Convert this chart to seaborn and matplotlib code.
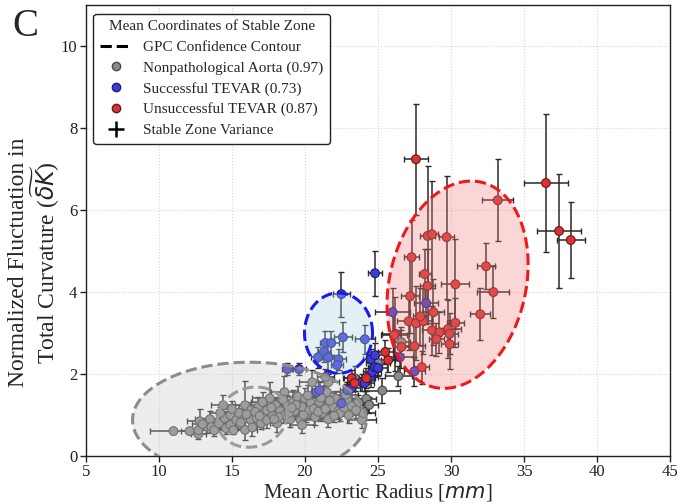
import numpy as np
import pandas as pd
import matplotlib
matplotlib.use('Agg')
import matplotlib.pyplot as plt
from matplotlib.lines import Line2D
import seaborn as sns

# ---- data : (radius, fluctuation, radius err, fluctuation err) ----
gray_x = [11.0, 12.1, 12.7, 12.7, 12.8, 13.3, 13.5, 13.6, 13.8, 14.1, 14.4, 14.5, 14.6, 14.9,
          14.9, 15.1, 15.3, 15.5, 15.9, 15.9, 15.9, 16.3, 16.3, 16.4, 16.7, 16.8, 17.0, 17.2,
          17.4, 17.4, 17.6, 17.8, 18.0, 18.1, 18.3, 18.6, 18.6, 18.8, 19.0, 19.2, 19.3, 19.5,
          19.7, 19.8, 19.8, 20.0, 20.1, 20.3, 20.4, 20.5, 20.7, 20.8, 21.0, 21.2, 21.3, 21.5,
          21.6, 21.8, 21.9, 22.1, 22.3, 22.4, 22.6, 22.9, 23.0, 23.4, 23.6, 23.9, 24.0, 24.2,
          25.0, 25.3, 26.4, 26.6, 21.6, 21.4,
          14.2, 15.0, 15.6, 16.0, 16.6, 17.1, 17.7, 18.2, 18.5, 18.9, 19.4, 19.9, 20.2, 20.6,
          20.9, 21.1, 21.7, 22.0, 22.7, 23.2, 23.5, 13.0, 16.9, 19.1, 17.9, 21.4, 22.8, 24.4]
gray_y = [0.61, 0.61, 0.54, 0.63, 0.85, 0.72, 0.90, 0.71, 0.63, 0.80, 1.24, 0.93, 0.68, 1.00,
          0.76, 0.63, 0.88, 1.05, 1.24, 0.93, 0.64, 0.88, 1.12, 0.70, 0.93, 1.20, 0.80, 1.05,
          1.12, 0.88, 1.41, 0.98, 1.24, 0.80, 1.10, 1.56, 1.00, 1.25, 0.90, 1.32, 1.10, 1.45,
          0.88, 1.20, 0.76, 1.41, 1.02, 1.12, 1.30, 1.80, 0.95, 1.20, 1.32, 1.05, 1.45, 1.56,
          0.90, 1.25, 1.20, 1.40, 1.10, 1.05, 1.30, 1.37, 1.00, 1.90, 1.29, 0.88, 1.05, 1.40,
          2.27, 1.60, 1.95, 2.78, 1.80, 1.93,
          1.05, 1.15, 0.82, 1.02, 1.08, 1.32, 1.18, 0.95, 1.38, 1.05, 1.25, 1.00, 1.48, 1.15,
          1.08, 1.42, 1.35, 0.98, 1.18, 1.22, 1.12, 0.78, 0.98, 1.18, 0.90, 1.15, 1.50, 1.25]
gray_xerr = [1.6, 0.6, 0.5, 0.8, 0.9, 0.7, 1.0, 0.6, 0.9, 0.7, 0.8, 0.6, 0.8, 0.7,
             0.9, 0.6, 0.8, 0.7, 0.9, 0.6, 0.8, 0.7, 0.8, 0.7, 0.9, 0.7, 0.6, 0.8,
             0.9, 0.7, 1.2, 0.6, 0.8, 0.9, 0.7, 0.9, 0.6, 0.8, 0.7, 0.9, 0.6, 0.8,
             0.9, 0.7, 0.8, 0.9, 0.7, 0.8, 0.7, 0.9, 0.8, 0.7, 0.9, 0.6, 0.8, 0.9,
             0.7, 0.8, 0.9, 0.7, 0.8, 0.9, 0.7, 0.8, 0.9, 0.8, 0.9, 1.0, 0.8, 0.7,
             0.8, 1.2, 0.9, 0.6, 0.7, 0.6,
             0.7, 0.8, 0.6, 0.9, 0.7, 0.8, 0.6, 0.9, 0.7, 0.8, 0.6, 0.9, 0.7, 0.8,
             0.6, 0.7, 0.8, 0.9, 0.7, 0.6, 0.8, 0.7, 0.8, 0.6, 0.9, 0.7, 0.8, 0.6]
gray_yerr = [0.05, 0.08, 0.12, 0.10, 0.30, 0.15, 0.20, 0.12, 0.15, 0.15, 0.25, 0.18, 0.15, 0.20,
             0.15, 0.10, 0.20, 0.20, 0.60, 0.20, 0.25, 0.15, 0.20, 0.20, 0.20, 0.25, 0.15, 0.20,
             0.25, 0.20, 0.40, 0.15, 0.20, 0.20, 0.20, 0.40, 0.20, 0.25, 0.20, 0.30, 0.20, 0.25,
             0.20, 0.20, 0.20, 0.25, 0.20, 0.20, 0.20, 0.30, 0.20, 0.25, 0.30, 0.20, 0.25, 0.30,
             0.20, 0.20, 0.25, 0.20, 0.20, 0.20, 0.20, 0.20, 0.20, 0.30, 0.20, 0.20, 0.25, 0.20,
             0.30, 0.30, 0.25, 0.30, 0.20, 0.20,
             0.15, 0.20, 0.15, 0.20, 0.15, 0.25, 0.20, 0.15, 0.25, 0.20, 0.20, 0.15, 0.25, 0.20,
             0.20, 0.25, 0.20, 0.15, 0.20, 0.20, 0.20, 0.15, 0.20, 0.20, 0.15, 0.20, 0.25, 0.20]

blue_x = [22.5, 24.8, 22.6, 24.1, 21.4, 21.8, 21.3, 20.9, 21.6, 22.3, 22.2, 24.5, 24.8,
          18.8, 19.6, 20.8, 21.0, 22.5, 22.9, 23.2, 23.9, 24.1, 24.5, 24.6, 24.8, 25.0,
          26.0, 28.3, 26.5, 27.5]
blue_y = [3.95, 4.46, 2.90, 2.85, 2.76, 2.76, 2.54, 2.41, 2.41, 2.36, 2.22, 2.36, 2.46,
          2.12, 2.12, 1.56, 1.61, 1.29, 1.61, 1.66, 1.80, 1.78, 1.93, 2.05, 2.17, 2.15,
          3.51, 3.73, 2.41, 2.07]
blue_xerr = [0.6, 0.5, 0.6, 0.7, 0.4, 0.5, 0.4, 0.5, 0.4, 0.5, 0.4, 0.5, 0.6,
             0.4, 0.5, 0.4, 0.5, 0.6, 0.5, 0.6, 0.5, 0.6, 0.5, 0.6, 0.5, 0.6,
             1.2, 0.8, 0.9, 0.7]
blue_yerr = [0.55, 0.55, 0.37, 0.35, 0.30, 0.30, 0.25, 0.25, 0.30, 0.25, 0.20, 0.25, 0.30,
             0.15, 0.15, 0.15, 0.20, 0.20, 0.20, 0.25, 0.20, 0.20, 0.25, 0.20, 0.25, 0.20,
             0.60, 0.50, 0.40, 0.35]

red_x = [27.6, 36.5, 33.2, 37.4, 38.2, 28.4, 28.7, 29.7, 27.3, 28.2, 28.4, 30.3, 32.4, 32.9,
         27.2, 32.0, 28.8, 30.3, 27.1, 27.6, 28.1, 28.7, 29.2, 29.8, 29.9, 29.0, 29.9, 26.2,
         26.6, 27.5, 28.0, 25.5, 25.7, 26.1, 23.2, 23.4, 24.2, 27.9]
red_y = [7.24, 6.66, 6.24, 5.49, 5.27, 5.37, 5.41, 5.34, 4.85, 4.44, 4.15, 4.19, 4.63, 4.00,
         3.90, 3.46, 3.51, 3.25, 3.29, 3.24, 3.29, 3.07, 3.02, 3.10, 2.98, 2.85, 2.73, 2.98,
         2.66, 2.68, 2.17, 2.54, 2.34, 2.95, 1.90, 1.78, 1.90, 3.41]
red_xerr = [0.8, 1.5, 1.05, 1.5, 0.97, 0.5, 0.4, 0.5, 0.5, 0.4, 0.5, 0.95, 0.6, 1.1,
            0.6, 0.7, 0.7, 0.6, 0.8, 0.5, 0.6, 0.7, 0.6, 0.9, 0.6, 0.5, 0.6, 0.9,
            0.6, 0.7, 0.5, 0.5, 0.5, 0.9, 0.5, 0.5, 0.6, 0.5]
red_yerr = [1.35, 1.68, 1.00, 1.40, 0.93, 1.70, 1.30, 1.50, 0.90, 0.60, 0.90, 1.10, 0.56, 0.64,
            0.90, 0.64, 0.80, 0.60, 0.70, 0.90, 0.80, 0.60, 0.50, 0.70, 0.50, 0.40, 0.60, 0.90,
            0.50, 0.60, 0.40, 0.30, 0.30, 0.60, 0.20, 0.20, 0.25, 0.70]

# confidence contours: centre x, centre y, x half-width, y shear, y half-height
ell_cx = [16.2, 16.4, 22.3, 30.45]
ell_cy = [0.88, 0.95, 3.00, 4.18]
ell_a = [8.0, 2.4, 2.33, 4.83]
ell_c = [0.0, 0.08, 0.0, 0.49]
ell_d = [1.41, 0.73, 0.98, 2.48]
ell_edge = ['#8c8c8c', '#9a9a9a', '#1a1aee', '#ee1a1a']
ell_fill = ['#c8c8c8', None, '#a8d4e8', '#f08080']

groups = ['Nonpathological Aorta (0.97)', 'Successful TEVAR (0.73)', 'Unsuccessful TEVAR (0.87)']
face = ['#8a8a8a', '#3c3cd8', '#d83232']
edge = ['#4a4a4a', '#1c1c70', '#701515']

frames = []
for g, xs, ys, xe, ye in zip(groups, [gray_x, blue_x, red_x], [gray_y, blue_y, red_y],
                             [gray_xerr, blue_xerr, red_xerr], [gray_yerr, blue_yerr, red_yerr]):
    frames.append(pd.DataFrame({'radius': xs, 'fluct': ys, 'xerr': xe, 'yerr': ye, 'group': g}))
df = pd.concat(frames, ignore_index=True)

sns.set_style('white')
plt.rcParams['font.family'] = ['Liberation Serif', 'DejaVu Serif']
plt.rcParams['mathtext.fontset'] = 'dejavusans'

fig = plt.figure(figsize=(6.81, 5.04), dpi=100)
ax = fig.add_axes([0.126, 0.095, 0.858, 0.895])

for g in groups:
    d = df[df['group'] == g]
    ax.errorbar(d['radius'], d['fluct'], xerr=d['xerr'], yerr=d['yerr'], fmt='none',
                ecolor='#2a2a2a', elinewidth=1.1, capsize=2, capthick=1.0, zorder=2)

sns.scatterplot(data=df, x='radius', y='fluct', hue='group', hue_order=groups,
                palette=face, s=40, legend=False, ax=ax, zorder=3)
# dark rims
pts = ax.collections[-1]
pts.set_edgecolors([edge[groups.index(g)] for g in df['group']])
pts.set_linewidths(0.8)

t = np.linspace(0, 2 * np.pi, 300)
for i in range(len(ell_cx)):
    ex = ell_cx[i] + ell_a[i] * np.cos(t)
    ey = ell_cy[i] + ell_c[i] * np.cos(t) + ell_d[i] * np.sin(t)
    if ell_fill[i] is not None:
        ax.fill(ex, ey, color=ell_fill[i], alpha=0.32, lw=0, zorder=4)
    ax.plot(ex, ey, '--', color=ell_edge[i], lw=2.2, zorder=5)

ax.set_xlim(5, 45)
ax.set_ylim(0, 11)
ax.set_xticks(range(5, 46, 5))
ax.set_yticks(range(0, 11, 2))
ax.grid(True, ls=':', color='#d5d5d5', lw=0.8)
ax.set_axisbelow(True)
for s in ax.spines.values():
    s.set_color('#222222')
    s.set_linewidth(1.0)
ax.tick_params(direction='out', length=4, width=1, labelsize=12, colors='#222222',
               left=True, bottom=True, pad=2)

ax.set_xlabel('Mean Aortic Radius [$mm$]', fontsize=15, labelpad=1)
ax.set_ylabel('Normalized Fluctuation in\nTotal Curvature ($\\widetilde{\\delta K}$)', fontsize=17,
              linespacing=1.0)
ax.yaxis.set_label_coords(-0.04, 0.43)

handles = [Line2D([], [], color='black', ls='--', lw=2.2),
           Line2D([], [], marker='o', ls='none', mfc=face[0], mec=edge[0], ms=6),
           Line2D([], [], marker='o', ls='none', mfc=face[1], mec=edge[1], ms=6),
           Line2D([], [], marker='o', ls='none', mfc=face[2], mec=edge[2], ms=6),
           Line2D([], [], marker='+', ls='none', color='black', ms=11, mew=1.8)]
labels = ['GPC Confidence Contour'] + groups + ['Stable Zone Variance']
leg = ax.legend(handles, labels, title='Mean Coordinates of Stable Zone', loc='upper left',
                bbox_to_anchor=(0.0, 0.998), fontsize=11, title_fontsize=11, frameon=True,
                fancybox=True, edgecolor='#222222', framealpha=1, handlelength=2.0,
                labelspacing=0.45, borderpad=0.45)
leg.get_frame().set_linewidth(1.0)

fig.text(0.037, 0.947, 'C', fontsize=28, ha='center', va='center')

fig.savefig('out.png', dpi=100)
